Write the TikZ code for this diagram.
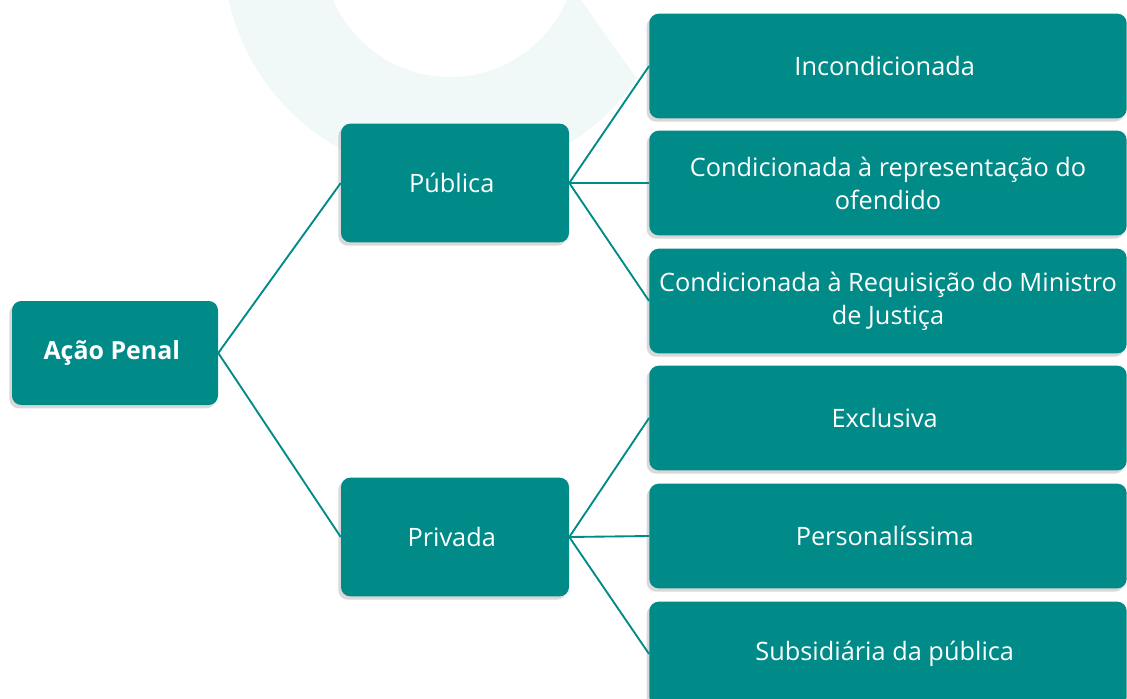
\documentclass[tikz,border=0pt]{standalone}
\usepackage{fontspec}
\setmainfont{Open Sans}
\usepackage{xcolor}
\usetikzlibrary{shapes, shadows, calc, positioning}
\definecolor{penalteal}{HTML}{008A88}
\colorlet{marcafaint}{penalteal!6!white}

\begin{document}
\begin{tikzpicture}[x=0.75pt, y=-0.75pt,
        caixa/.style = {fill = penalteal, rounded corners = 7pt, text = white,
                        align = center, inner sep = 0pt,
                        font = \fontsize{19}{24.75}\selectfont,
                        drop shadow = {shadow xshift = -2pt, shadow yshift = -2.5pt,
                                       opacity = 0.3}},
        raiz/.style   = {caixa, minimum width = 154.5pt, minimum height = 78pt,
                         font = \fontsize{18.7}{24.75}\selectfont\bfseries},
        meio/.style   = {caixa, minimum width = 171pt, minimum height = 89pt},
        folha/.style  = {caixa, minimum width = 358pt, minimum height = 78.5pt},
        ramo/.style   = {draw = penalteal, line width = 1.4pt}]%{{{
                \useasboundingbox (0, 0) rectangle (1127, 699);

                % marca d'agua ao fundo
                \begin{scope}
                    \clip (0, -300) -- (368, -300) -- (723, 200) -- (0, 200) -- cycle;
                    \fill [marcafaint, even odd rule]
                        (450, -50) circle [radius = 227] (450, -50) circle [radius = 127];
                \end{scope}

                \node (ACAO) [raiz] at (115, 353) { Ação Penal };

                \node (PUB)  [meio] at (455, 183) { Pública };
                \node (PRIV) [meio] at (455, 537) { Privada };

                \node (INC)  [folha] at (888, 66)  { Incondicionada };
                \node (REP)  [folha] at (888, 183) { Condicionada à representação do\\ ofendido };
                \node (REQ)  [folha] at (888, 301) { Condicionada à Requisição do Ministro\\ de Justiça };
                \node (EXC)  [folha] at (888, 418) { Exclusiva };
                \node (PERS) [folha] at (888, 536) { Personalíssima };
                \node (SUB)  [folha] at (888, 654) { Subsidiária da pública };

                \draw [ramo] (ACAO.east) -- (PUB.west);
                \draw [ramo] (ACAO.east) -- (PRIV.west);

                \draw [ramo] (PUB.east) -- (INC.west);
                \draw [ramo] (PUB.east) -- (REP.west);
                \draw [ramo] (PUB.east) -- (REQ.west);

                \draw [ramo] (PRIV.east) -- (EXC.west);
                \draw [ramo] (PRIV.east) -- (PERS.west);
                \draw [ramo] (PRIV.east) -- (SUB.west);
            \end{tikzpicture}
\end{document}
